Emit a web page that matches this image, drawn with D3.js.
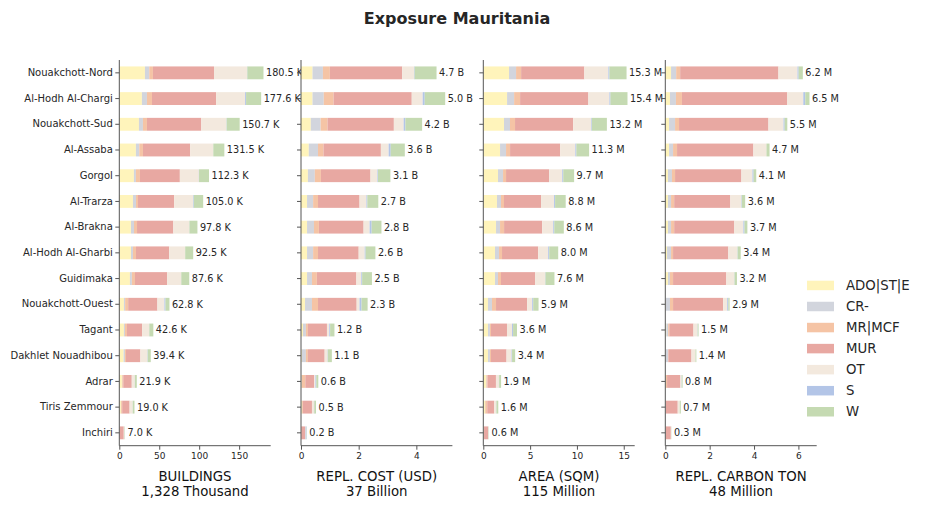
<!DOCTYPE html>
<html>
<head>
<meta charset="utf-8">
<script src="https://cdn.jsdelivr.net/npm/d3@7"></script>
<style>
  body { margin: 0; background: #fff; }
  svg { display: block; font-family: "DejaVu Sans", sans-serif; }
</style>
</head>
<body>
<svg id="chart" width="927" height="510"></svg>
<script>
// ---------------- DATA ----------------
const regions = ["Nouakchott-Nord","Al-Hodh Al-Chargi","Nouakchott-Sud","Al-Assaba","Gorgol","Al-Trarza","Al-Brakna","Al-Hodh Al-Gharbi","Guidimaka","Nouakchott-Ouest","Tagant","Dakhlet Nouadhibou","Adrar","Tiris Zemmour","Inchiri"];
const categories = ["ADO|ST|E","CR-","MR|MCF","MUR","OT","S","W"];
const colors = ["#fff4bb","#d2d5dd","#f5c4a5","#e8a8a2","#f3e9de","#b3c5e7","#c5dab2"];

// BUILDINGS (thousands), per region, per category
const buildings = [
  [32.1,5.4,4.6,76.5,41.3,0.4,20.2],
  [28.3,6.3,6.3,80.3,36.3,1.2,18.9],
  [24.6,5.0,5.0,68.0,31.5,0.3,16.3],
  [20.8,4.2,4.6,59.2,28.8,0.1,13.8],
  [18.3,2.5,5.0,50.0,23.8,0.2,12.5],
  [17.1,3.8,2.5,45.3,23.8,0.8,11.7],
  [14.6,3.8,3.8,45.4,20.0,0.2,10.0],
  [14.6,2.5,3.8,41.5,20.0,0.1,10.0],
  [13.3,2.5,3.8,40.4,17.5,0.1,10.0],
  [5.8,1.5,3.8,36.6,8.8,1.3,5.0],
  [5.8,1.3,2.5,19.0,8.8,0.2,5.0],
  [5.4,1.7,1.3,18.0,8.8,0.4,3.8],
  [3.3,0.4,1.3,10.6,3.8,0.1,2.4],
  [2.0,0.3,1.3,9.3,3.8,0.1,2.2],
  [0.3,0.1,0.2,5.0,0.8,0.1,0.5]
];
// REPLACEMENT COST (billion USD)
const replCost = [
  [0.40,0.36,0.24,2.51,0.41,0.02,0.76],
  [0.40,0.39,0.34,2.71,0.38,0.07,0.71],
  [0.34,0.34,0.24,2.30,0.34,0.06,0.58],
  [0.27,0.32,0.19,1.99,0.27,0.07,0.49],
  [0.24,0.24,0.21,1.72,0.24,0.02,0.43],
  [0.21,0.21,0.17,1.44,0.24,0.03,0.38],
  [0.21,0.24,0.17,1.55,0.21,0.07,0.34],
  [0.21,0.21,0.17,1.41,0.21,0.03,0.34],
  [0.21,0.17,0.17,1.37,0.17,0.03,0.34],
  [0.14,0.24,0.21,1.34,0.10,0.07,0.21],
  [0.07,0.10,0.07,0.66,0.08,0.03,0.15],
  [0.03,0.14,0.07,0.58,0.10,0.01,0.14],
  [0.02,0.01,0.12,0.31,0.04,0.03,0.07],
  [0.03,0.01,0.03,0.31,0.07,0.01,0.06],
  [0.00,0.00,0.01,0.14,0.01,0.03,0.01]
];
// AREA (million sqm)
const area = [
  [2.75,0.75,0.54,6.75,2.57,0.11,1.83],
  [2.54,0.75,0.64,7.29,2.25,0.11,1.82],
  [2.21,0.64,0.54,6.21,1.93,0.07,1.60],
  [1.79,0.64,0.43,5.36,1.61,0.11,1.36],
  [1.57,0.54,0.32,4.61,1.39,0.11,1.16],
  [1.46,0.43,0.32,3.96,1.39,0.11,1.13],
  [1.36,0.43,0.43,4.07,1.18,0.11,1.02],
  [1.25,0.43,0.32,3.86,1.07,0.11,0.96],
  [1.25,0.32,0.32,3.64,1.07,0.04,0.96],
  [0.50,0.43,0.43,3.32,0.54,0.11,0.57],
  [0.50,0.21,0.11,1.71,0.54,0.11,0.42],
  [0.50,0.21,0.11,1.66,0.54,0.05,0.33],
  [0.29,0.05,0.11,0.90,0.32,0.02,0.21],
  [0.18,0.03,0.21,0.75,0.21,0.02,0.20],
  [0.05,0.01,0.02,0.43,0.05,0.01,0.03]
];
// REPLACEMENT CARBON (million ton)
const carbon = [
  [0.26,0.23,0.18,4.43,0.86,0.05,0.19],
  [0.21,0.27,0.27,4.75,0.72,0.09,0.19],
  [0.17,0.27,0.18,4.03,0.68,0.05,0.12],
  [0.17,0.18,0.18,3.44,0.59,0.00,0.14],
  [0.12,0.18,0.14,2.99,0.50,0.05,0.12],
  [0.12,0.14,0.14,2.53,0.50,0.02,0.15],
  [0.12,0.14,0.14,2.71,0.41,0.05,0.13],
  [0.08,0.18,0.09,2.49,0.41,0.01,0.14],
  [0.12,0.09,0.14,2.40,0.36,0.01,0.11],
  [0.02,0.19,0.14,2.26,0.18,0.05,0.06],
  [0.05,0.08,0.05,1.09,0.18,0.01,0.04],
  [0.02,0.10,0.02,1.04,0.18,0.00,0.04],
  [0.01,0.01,0.06,0.60,0.05,0.01,0.04],
  [0.01,0.01,0.01,0.53,0.09,0.00,0.05],
  [0.01,0.01,0.01,0.22,0.02,0.00,0.01]
];

const panelTitles = ["BUILDINGS","REPL. COST (USD)","AREA (SQM)","REPL. CARBON TON"];
const panelUnits = ["K","B","M","M"];
const totalUnits = ["Thousand","Billion","Million","Million"];
const panelTicks = [[0,50,100,150],[0,2,4],[0,5,10,15],[0,2,4,6]];
const chartTitle = "Exposure Mauritania";

// ---------------- LAYOUT ----------------
const svg = d3.select("#chart");
const textColor = "#262626";
const spineColor = "#555";
const plotTop = 60, plotBottom = 445.7;
const panelLeft = [119.3, 301, 483.3, 665.3];
const panelWidth = 151.4;

const y = d3.scaleBand().domain(regions).range([plotTop, plotBottom]).paddingInner(0.5).paddingOuter(0.25);

svg.append("text")
  .attr("x", 457).attr("y", 24)
  .attr("text-anchor", "middle")
  .attr("font-size", 16).attr("font-weight", "bold")
  .attr("fill", textColor)
  .text(chartTitle);

const datasets = [buildings, replCost, area, carbon];

datasets.forEach((data, p) => {
  const totals = data.map(r => d3.sum(r));
  const grand = d3.sum(totals);
  const x = d3.scaleLinear().domain([0, d3.max(totals) * 1.05]).range([panelLeft[p], panelLeft[p] + panelWidth]);
  const g = svg.append("g");

  const stack = d3.stack().keys(d3.range(categories.length))(data);
  stack.forEach((layer, k) => {
    g.selectAll(null).data(layer).enter().append("rect")
      .attr("x", d => x(d[0]))
      .attr("width", d => Math.max(0, x(d[1]) - x(d[0])))
      .attr("y", (d, i) => y(regions[i]))
      .attr("height", y.bandwidth())
      .attr("fill", colors[k]);
  });

  // value labels
  g.selectAll(null).data(totals).enter().append("text")
    .attr("x", d => x(d) + 2.5)
    .attr("y", (d, i) => y(regions[i]) + y.bandwidth() / 2)
    .attr("dy", "0.35em")
    .attr("font-size", 9.7)
    .attr("fill", textColor)
    .text(d => d.toFixed(1) + " " + panelUnits[p]);

  // x axis
  const xa = g.append("g")
    .attr("transform", `translate(0,${plotBottom})`)
    .call(d3.axisBottom(x).tickValues(panelTicks[p]).tickSize(4).tickPadding(3).tickFormat(d3.format("d")));
  xa.select(".domain").attr("stroke", spineColor).attr("d", `M${x.range()[0]},0H${x.range()[1]}`);
  xa.selectAll(".tick line").attr("stroke", spineColor);
  xa.selectAll(".tick text").attr("font-size", 9).attr("fill", textColor).attr("font-family", "DejaVu Sans");

  // y axis
  const ya = g.append("g")
    .attr("transform", `translate(${panelLeft[p]},0)`)
    .call(d3.axisLeft(y).tickSize(4).tickPadding(2.5).tickFormat(p === 0 ? (d => d) : () => ""));
  ya.select(".domain").attr("stroke", spineColor).attr("d", `M0,${plotTop}V${plotBottom}`);
  ya.selectAll(".tick line").attr("stroke", spineColor);
  ya.selectAll(".tick text").attr("font-size", 10).attr("fill", textColor).attr("font-family", "DejaVu Sans");

  // axis title
  const cx = panelLeft[p] + panelWidth / 2;
  const fmt = d3.format(",");
  g.append("text").attr("x", cx).attr("y", 480.5)
    .attr("text-anchor", "middle").attr("font-size", 13.3).attr("fill", "#111")
    .text(panelTitles[p]);
  g.append("text").attr("x", cx).attr("y", 495.5)
    .attr("text-anchor", "middle").attr("font-size", 13.3).attr("fill", "#111")
    .text(fmt(Math.round(grand)) + " " + totalUnits[p]);
});

// legend
const lg = svg.append("g");
categories.forEach((c, k) => {
  const cy = 285.5 + k * 21.05;
  lg.append("rect").attr("x", 807).attr("y", cy - 4.8).attr("width", 27).attr("height", 9.5).attr("fill", colors[k]);
  lg.append("text").attr("x", 846).attr("y", cy).attr("dy", "0.35em")
    .attr("font-size", 13.3).attr("fill", textColor).text(c);
});
</script>
</body>
</html>
